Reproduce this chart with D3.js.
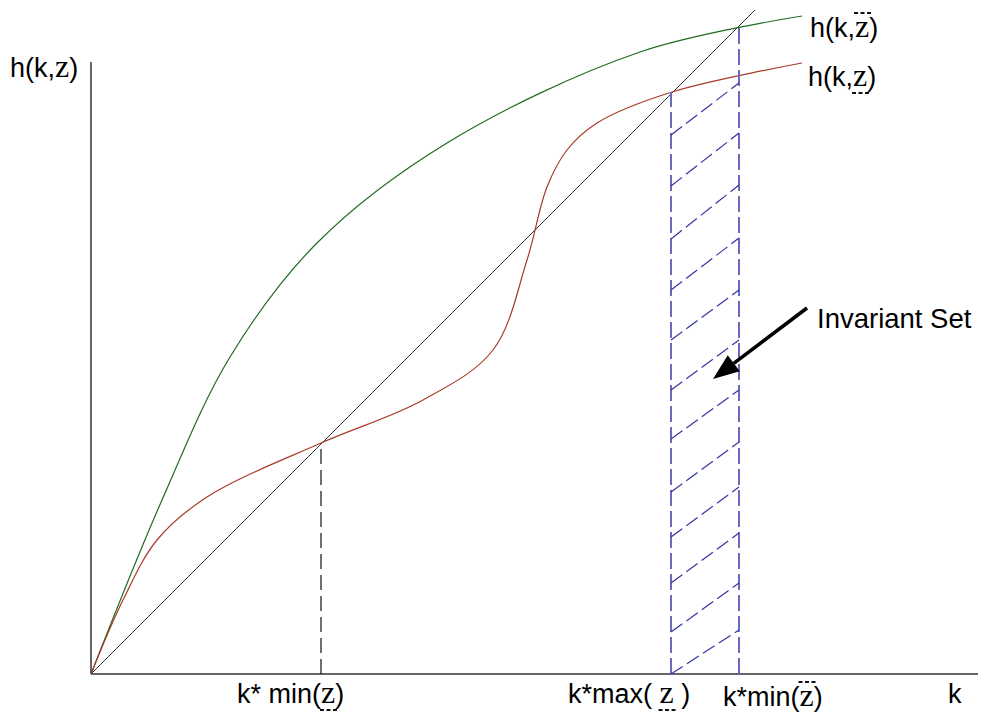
<!doctype html>
<html>
<head>
<title>Invariant set</title>
<style>
  body { margin: 0; background: #fff; }
</style>
</head>
<body>
<script src="https://d3js.org/d3.v7.min.js"></script>
<script>
// curve values (k, h)
var greenK = [0, 0.71, 1.39, 2.26, 3.56, 5.49, 7.11];
var greenH = [0, 1.74, 3.17, 4.31, 5.31, 6.22, 6.58];
var redK = [0, 0.32, 0.66, 1.16, 2.30, 3.32, 4.02, 4.36, 4.56, 4.76, 5.06, 5.81, 7.11];
var redH = [0, 0.74, 1.34, 1.77, 2.31, 2.74, 3.24, 4.14, 4.87, 5.24, 5.51, 5.82, 6.11];
var diagK = [0, 6.64];

// fixed points on the k axis
var kStarLow = 2.30, kStarMaxLow = 5.80, kStarMinHigh = 6.48;

// hatching: h at left edge and at right edge of the band
var hatchLeftH = [5.39, 4.88, 4.35, 3.84, 3.34, 2.84, 2.35, 1.82, 1.37, 0.91, 0.42, 0];
var hatchRightH = [5.91, 5.41, 4.89, 4.36, 3.84, 3.34, 2.84, 2.32, 1.87, 1.41, 0.91, 0.44];

var width = 985, height = 721;
var sans = "'Liberation Sans', Arial, sans-serif";
var serif = "'Liberation Serif', 'Times New Roman', serif";

var svg = d3.select("body").append("svg")
    .attr("width", width)
    .attr("height", height);

var x = d3.scaleLinear().domain([0, 8.87]).range([91, 978]);
var y = d3.scaleLinear().domain([0, 6.12]).range([674, 62]);

// axes
svg.append("line")
    .attr("x1", x(0)).attr("y1", y(0)).attr("x2", x(0)).attr("y2", y(6.12))
    .attr("stroke", "#333").attr("stroke-width", 1.5);
svg.append("line")
    .attr("x1", x(0)).attr("y1", y(0)).attr("x2", x(8.87)).attr("y2", y(0))
    .attr("stroke", "#333").attr("stroke-width", 1.5);

var line = d3.line()
    .x(function(d) { return x(d[0]); })
    .y(function(d) { return y(d[1]); })
    .curve(d3.curveCatmullRom.alpha(0.5));

// 45 degree line
svg.append("line")
    .attr("x1", x(diagK[0])).attr("y1", y(diagK[0]))
    .attr("x2", x(diagK[1])).attr("y2", y(diagK[1]))
    .attr("stroke", "#333").attr("stroke-width", 1);

// green curve h(k, zbar)
svg.append("path")
    .datum(greenK.map(function(k, i) { return [k, greenH[i]]; }))
    .attr("d", line)
    .attr("fill", "none")
    .attr("stroke", "#1f6b1f")
    .attr("stroke-width", 1.2);

// red curve h(k, zunder)
svg.append("path")
    .datum(redK.map(function(k, i) { return [k, redH[i]]; }))
    .attr("d", line)
    .attr("fill", "none")
    .attr("stroke", "#a83a28")
    .attr("stroke-width", 1.2);

// dashed drop line at the low fixed point
svg.append("line")
    .attr("x1", x(kStarLow)).attr("y1", y(0))
    .attr("x2", x(kStarLow)).attr("y2", y(kStarLow))
    .attr("stroke", "#111").attr("stroke-width", 1.2)
    .attr("stroke-dasharray", "15,6");

// band edges
svg.append("line")
    .attr("x1", x(kStarMaxLow)).attr("y1", y(0))
    .attr("x2", x(kStarMaxLow)).attr("y2", y(kStarMaxLow + 0.02))
    .attr("stroke", "#6a6ac0").attr("stroke-width", 2)
    .attr("stroke-dasharray", "16,5");
svg.append("line")
    .attr("x1", x(kStarMinHigh)).attr("y1", y(0))
    .attr("x2", x(kStarMinHigh)).attr("y2", y(kStarMinHigh - 0.01))
    .attr("stroke", "#6a6ac0").attr("stroke-width", 2)
    .attr("stroke-dasharray", "16,5");

// hatching
svg.selectAll("line.hatch")
    .data(hatchLeftH)
    .enter().append("line")
    .attr("class", "hatch")
    .attr("x1", x(kStarMaxLow))
    .attr("y1", function(d) { return y(d); })
    .attr("x2", x(kStarMinHigh))
    .attr("y2", function(d, i) { return y(hatchRightH[i]); })
    .attr("stroke", "#3434a6").attr("stroke-width", 1.2)
    .attr("stroke-dasharray", "14,5");

// arrow pointing into the band
var arrowFrom = [7.16, 3.66], arrowTo = [6.22, 2.95];
var ax1 = x(arrowFrom[0]), ay1 = y(arrowFrom[1]), ax2 = x(arrowTo[0]), ay2 = y(arrowTo[1]);
var ang = Math.atan2(ay2 - ay1, ax2 - ax1);
var headLen = 26, headHalf = 10;
var bx = ax2 - headLen * Math.cos(ang), by = ay2 - headLen * Math.sin(ang);
svg.append("line")
    .attr("x1", ax1).attr("y1", ay1).attr("x2", bx).attr("y2", by)
    .attr("stroke", "#000").attr("stroke-width", 3.5);
svg.append("path")
    .attr("d", "M" + ax2 + "," + ay2 +
        "L" + (bx + headHalf * Math.sin(ang)) + "," + (by - headHalf * Math.cos(ang)) +
        "L" + (bx - headHalf * Math.sin(ang)) + "," + (by + headHalf * Math.cos(ang)) + "Z")
    .attr("fill", "#000");

svg.append("text")
    .attr("x", 817).attr("y", 328)
    .attr("font-family", sans).attr("font-size", 27.5)
    .text("Invariant Set");

// labels with a z that carries a dashed bar over or under it
function label(px, py, before, after, bar) {
    var t = svg.append("text")
        .attr("x", px).attr("y", py)
        .attr("font-family", sans).attr("font-size", 27);
    t.append("tspan").text(before);
    t.append("tspan").attr("font-family", serif).attr("font-size", 32).text("z");
    t.append("tspan").text(after);
    if (!bar) return;
    var ext = t.node().getExtentOfChar(before.length);
    var by2 = bar === "over" ? py - 24 : py + 7;
    svg.append("line")
        .attr("x1", ext.x - 1).attr("x2", ext.x + ext.width + 2)
        .attr("y1", by2).attr("y2", by2)
        .attr("stroke", "#111").attr("stroke-width", 2)
        .attr("stroke-dasharray", "4,2.5");
}

label(10, 77, "h(k,", ")", null);
label(810, 37, "h(k,", ")", "over");
label(808, 86, "h(k,", ")", "under");
label(237, 703, "k* min(", ")", "under");
label(568, 703, "k*max( ", " )", "under");
label(723, 706, "k*min(", ")", "over");

svg.append("text")
    .attr("x", 948).attr("y", 703)
    .attr("font-family", sans).attr("font-size", 27)
    .text("k");
</script>
</body>
</html>
